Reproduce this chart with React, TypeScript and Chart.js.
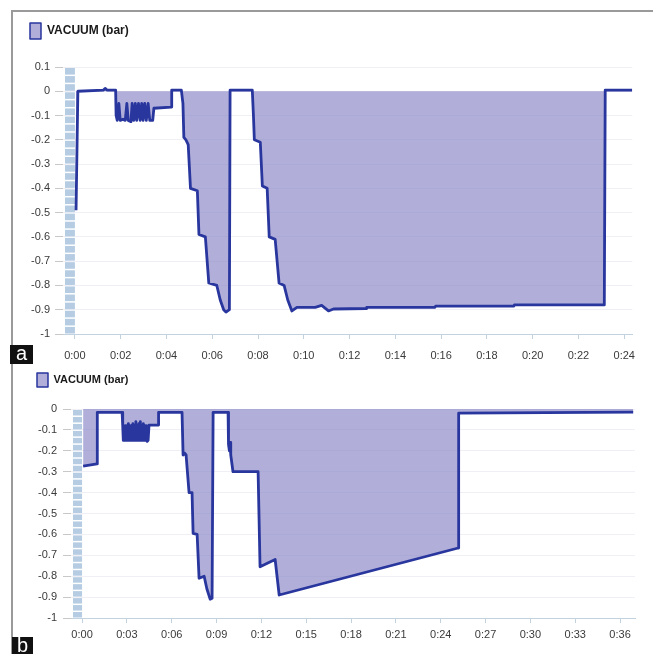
import React, { useEffect, useRef } from 'react';
import { Chart, registerables } from 'chart.js';

Chart.register(...registerables);
Chart.defaults.font.family = '"Liberation Sans", Arial, sans-serif';

const SERIES_LABEL = 'VACUUM (bar)';

// Panel a: time (axis units) and vacuum (bar)
const A_TIME = [
  0.05, 0.13, 1.25, 1.32, 1.4, 1.78, 1.8, 1.85, 1.92, 1.98, 2.1, 2.2, 2.27, 2.33, 2.45, 2.5, 2.57, 2.64,
  2.7, 2.78, 2.85, 2.92, 2.98, 3.05, 3.12, 3.2, 3.27, 3.4, 3.45, 4.2, 4.23, 4.65, 4.72, 4.76, 4.85, 4.95,
  5.05, 5.35, 5.42, 5.7, 5.85, 6.2, 6.35, 6.5, 6.6, 6.75, 6.78, 7.75, 7.8, 7.84, 8.1, 8.19, 8.4, 8.49,
  8.75, 8.92, 9.14, 9.3, 9.48, 9.7, 10.5, 10.78, 11.08, 11.3, 12.72, 12.75, 15.73, 15.76, 19.18, 19.2,
  23.13, 23.17, 24.35,
];
const A_VACUUM = [
  -0.49, 0.0, 0.005, 0.012, 0.005, 0.005, -0.1, -0.12, -0.05, -0.12, -0.115, -0.12, -0.05, -0.12, -0.125, -0.05, -0.12, -0.05,
  -0.12, -0.05, -0.12, -0.05, -0.12, -0.05, -0.12, -0.05, -0.12, -0.12, -0.07, -0.065, 0.005, 0.005, -0.05, -0.19, -0.2, -0.22,
  -0.4, -0.41, -0.59, -0.6, -0.79, -0.8, -0.86, -0.9, -0.91, -0.9, 0.005, 0.005, -0.1, -0.2, -0.21, -0.39, -0.4, -0.6,
  -0.61, -0.79, -0.8, -0.86, -0.905, -0.89, -0.89, -0.882, -0.905, -0.897, -0.895, -0.89, -0.89, -0.885, -0.885, -0.88,
  -0.88, 0.005, 0.005,
];
const A_X_TICK_LABELS = ['0:00', '0:02', '0:04', '0:06', '0:08', '0:10', '0:12', '0:14', '0:16', '0:18', '0:20', '0:22', '0:24'];
const A_Y_TICK_LABELS = ['0.1', '0', '-0.1', '-0.2', '-0.3', '-0.4', '-0.5', '-0.6', '-0.7', '-0.8', '-0.9', '-1'];

// Panel b
const B_TIME = [
  0.07, 1.0, 1.02, 2.68, 2.72, 2.76, 2.8, 2.85, 2.9, 2.95, 3.0, 3.05, 3.1, 3.15, 3.2, 3.25, 3.3, 3.35,
  3.4, 3.45, 3.5, 3.55, 3.6, 3.65, 3.7, 3.75, 3.8, 3.85, 3.9, 3.95, 4.0, 4.05, 4.1, 4.15, 4.2, 4.25,
  4.3, 4.35, 4.42, 4.48, 5.1, 5.12, 6.69, 6.76, 6.85, 6.96, 7.16, 7.36, 7.43, 7.7, 7.83, 8.17, 8.35, 8.57,
  8.7, 8.77, 9.77, 9.8, 9.86, 9.9, 9.95, 10.1, 11.78, 11.91, 12.92, 13.19, 25.17, 25.2, 36.88,
];
const B_VACUUM = [
  -0.273, -0.263, -0.016, -0.016, -0.08, -0.15, -0.08, -0.15, -0.08, -0.15, -0.08, -0.15, -0.07, -0.15, -0.08, -0.15, -0.08, -0.15,
  -0.07, -0.15, -0.08, -0.15, -0.06, -0.15, -0.08, -0.15, -0.07, -0.15, -0.06, -0.15, -0.08, -0.15, -0.07, -0.15, -0.08, -0.15,
  -0.08, -0.155, -0.15, -0.077, -0.077, -0.016, -0.016, -0.22, -0.21, -0.22, -0.4, -0.4, -0.595, -0.6, -0.81, -0.8, -0.86, -0.91,
  -0.905, -0.016, -0.016, -0.17, -0.2, -0.16, -0.22, -0.3, -0.3, -0.755, -0.72, -0.89, -0.665, -0.02, -0.015,
];
const B_X_TICK_LABELS = ['0:00', '0:03', '0:06', '0:09', '0:12', '0:15', '0:18', '0:21', '0:24', '0:27', '0:30', '0:33', '0:36'];
const B_Y_TICK_LABELS = ['0', '-0.1', '-0.2', '-0.3', '-0.4', '-0.5', '-0.6', '-0.7', '-0.8', '-0.9', '-1'];

const LINE_COLOR = '#28369e';
const FILL_COLOR = 'rgba(120,117,190,0.58)';
const STRIPE_COLOR = '#b5cce3';

const tickValue = (label: string) => {
  const parts = label.split(':');
  return parts.length > 1 ? Number(parts[1]) + Number(parts[0]) * 60 : Number(label);
};

const stripePlugin = {
  id: 'yStripe',
  beforeDatasetsDraw(chart: any) {
    const { ctx, chartArea, scales } = chart;
    const x = scales.x;
    const y = scales.y;
    const x0 = chartArea.left + 2;
    const x1 = x.getPixelForValue(0);
    const step = 0.1 / 3;
    ctx.save();
    ctx.fillStyle = STRIPE_COLOR;
    let v = y.max;
    while (v > y.min + 1e-6) {
      const nv = Math.max(v - step, y.min);
      const p0 = y.getPixelForValue(v);
      const p1 = y.getPixelForValue(nv);
      ctx.fillRect(x0, p0 + 1, x1 - x0, p1 - p0 - 1.5);
      v = nv;
    }
    ctx.restore();
  },
};

const legendSpacer = (extra: number) => ({
  id: 'legendSpacer',
  beforeInit(chart: any) {
    const lg = chart.legend;
    if (!lg) return;
    const orig = lg.fit;
    lg.fit = function () {
      orig.call(this);
      this.height += extra;
    };
  },
});

interface PanelCfg {
  time: number[];
  values: number[];
  xLabels: string[];
  yLabels: string[];
  xMin: number;
  xMax: number;
  yMin: number;
  yMax: number;
  legendFont: number;
  boxHeight: number;
  padLeft: number;
  padRight: number;
  padTop: number;
  legendExtra: number;
  yWidth: number;
  xHeight: number;
  yTickPad: number;
  xTickPad: number;
}

function makeConfig(p: PanelCfg): any {
  const xVals = p.xLabels.map(tickValue);
  const yVals = p.yLabels.map(tickValue);
  const data = p.time.map((t, i) => ({ x: t, y: p.values[i] }));
  return {
    type: 'line',
    data: {
      datasets: [
        {
          label: SERIES_LABEL,
          data,
          borderColor: LINE_COLOR,
          backgroundColor: FILL_COLOR,
          borderWidth: 2.8,
          borderJoinStyle: 'round',
          pointRadius: 0,
          tension: 0,
          fill: 'origin',
        },
      ],
    },
    options: {
      animation: false,
      responsive: false,
      maintainAspectRatio: false,
      layout: { padding: { left: p.padLeft, right: p.padRight, top: p.padTop, bottom: 0 } },
      plugins: {
        tooltip: { enabled: false },
        legend: {
          display: true,
          position: 'top',
          align: 'start',
          labels: {
            boxWidth: 11,
            boxHeight: p.boxHeight,
            padding: 10,
            color: '#1a1a1a',
            font: { size: p.legendFont, weight: 'bold' },
            generateLabels: (chart: any) =>
              Chart.defaults.plugins.legend.labels.generateLabels(chart).map((l: any) => ({ ...l, lineWidth: 1.5 })),
          },
        },
      },
      scales: {
        x: {
          type: 'linear',
          min: p.xMin,
          max: p.xMax,
          afterBuildTicks: (s: any) => {
            s.ticks = xVals.map((v) => ({ value: v }));
          },
          afterFit: (s: any) => {
            s.height = p.xHeight;
          },
          ticks: {
            autoSkip: false,
            maxRotation: 0,
            padding: p.xTickPad,
            color: '#3a3a3a',
            font: { size: 11 },
            callback: (v: number) => {
              const i = xVals.indexOf(v);
              return i >= 0 ? p.xLabels[i] : '';
            },
          },
          grid: { drawOnChartArea: false, color: '#c3d2df', tickLength: 5 },
          border: { color: '#c3d2df', width: 1 },
        },
        y: {
          type: 'linear',
          min: p.yMin,
          max: p.yMax,
          afterBuildTicks: (s: any) => {
            s.ticks = yVals.map((v) => ({ value: v }));
          },
          afterFit: (s: any) => {
            s.width = p.yWidth;
          },
          ticks: {
            padding: p.yTickPad,
            color: '#3a3a3a',
            font: { size: 11 },
            callback: (v: number) => {
              const i = yVals.findIndex((u) => Math.abs(u - v) < 1e-9);
              return i >= 0 ? p.yLabels[i] : '';
            },
          },
          grid: { color: 'rgba(110,110,160,0.11)', tickColor: '#c8c8c8', tickLength: 8 },
          border: { display: false },
        },
      },
    },
    plugins: [stripePlugin, legendSpacer(p.legendExtra)],
  };
}

const PANEL_A: PanelCfg = {
  time: A_TIME,
  values: A_VACUUM,
  xLabels: A_X_TICK_LABELS,
  yLabels: A_Y_TICK_LABELS,
  xMin: -0.52,
  xMax: 24.35,
  yMin: -1,
  yMax: 0.1,
  legendFont: 12,
  boxHeight: 16,
  padLeft: 8,
  padRight: 5,
  padTop: 1,
  legendExtra: 18,
  yWidth: 43,
  xHeight: 28,
  yTickPad: 5,
  xTickPad: 10,
};

const PANEL_B: PanelCfg = {
  time: B_TIME,
  values: B_VACUUM,
  xLabels: B_X_TICK_LABELS,
  yLabels: B_Y_TICK_LABELS,
  xMin: -0.74,
  xMax: 37.0,
  yMin: -1,
  yMax: 0,
  legendFont: 11,
  boxHeight: 14,
  padLeft: 15,
  padRight: 10,
  padTop: 1,
  legendExtra: 12,
  yWidth: 44,
  xHeight: 36,
  yTickPad: 6,
  xTickPad: 5,
};

function PanelChart({ cfg, left, top, width, height }: { cfg: PanelCfg; left: number; top: number; width: number; height: number }) {
  const ref = useRef<HTMLCanvasElement | null>(null);
  useEffect(() => {
    if (!ref.current) return;
    const chart = new Chart(ref.current, makeConfig(cfg));
    return () => chart.destroy();
  }, [cfg]);
  return (
    <canvas
      ref={ref}
      width={width}
      height={height}
      style={{ position: 'absolute', left, top, width, height }}
    />
  );
}

const panelTag: React.CSSProperties = {
  position: 'absolute',
  background: '#111',
  color: '#fff',
  fontFamily: '"Liberation Sans", Arial, sans-serif',
  fontSize: 20,
  lineHeight: '17px',
  textAlign: 'center',
  zIndex: 2,
};

export default function App() {
  return (
    <div style={{ position: 'fixed', left: 0, top: 0, width: 653, height: 654, background: '#fff', overflow: 'hidden' }}>
      <div
        style={{
          position: 'absolute',
          left: 11,
          top: 10,
          width: 642,
          height: 660,
          borderLeft: '2px solid #9a9a9a',
          borderTop: '2px solid #9a9a9a',
          boxSizing: 'border-box',
        }}
      />
      <PanelChart cfg={PANEL_A} left={12} top={12} width={633} height={350} />
      <PanelChart cfg={PANEL_B} left={12} top={362} width={633} height={292} />
      <div style={{ ...panelTag, left: 10, top: 345, width: 23, height: 19 }}>a</div>
      <div style={{ ...panelTag, left: 12, top: 637, width: 21, height: 18 }}>b</div>
    </div>
  );
}
